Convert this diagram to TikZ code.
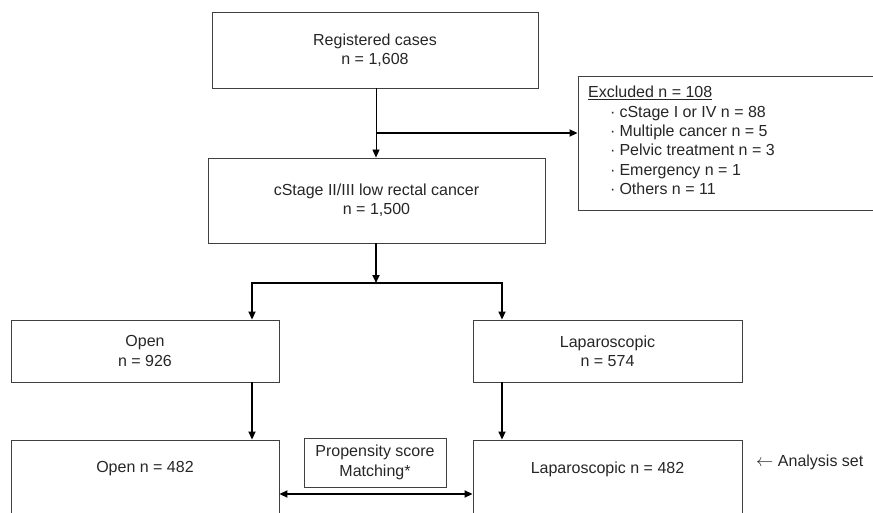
\documentclass[tikz,border=0pt]{standalone}
\usepackage{fontspec}
\setmainfont{Liberation Sans}
\usetikzlibrary{positioning}
\usetikzlibrary{arrows.meta}
\tikzset{
    mybox/.style = {rectangle, draw=black!75, line width=0.9pt, align=center, inner sep=0pt, font=\fontsize{16}{19.4}\selectfont, text=black!85},
    mytext/.style = {inner sep=0pt, align=left, font=\fontsize{16}{19.4}\selectfont, text=black!85},
    edgen/.style = {line width=0.9pt, black, -{Triangle[length=8pt,width=7pt]}},
    edget/.style = {line width=1.8pt, black, -{Triangle[length=8pt,width=7pt]}},
    edgeb/.style = {line width=1.8pt, black, {Triangle[length=8pt,width=7pt]}-{Triangle[length=8pt,width=7pt]}},
}
\begin{document}
\begin{tikzpicture}[x=1pt,y=-1pt]
\clip (0,0) rectangle (873,513);

\node[mybox, minimum width=326, minimum height=76] at (375, 50) (reg) {Registered cases\\n = 1,608};
\node[mybox, minimum width=337, minimum height=85] at (376.5, 200.5) (cst) {cStage II/III low rectal cancer\\n = 1,500};
\node[mybox, minimum width=322, minimum height=134] at (739, 143) (excl) {};
\node[mytext, anchor=north west] at (588, 86) (excltxt) {\underline{Excluded n = 108}\\
  \hspace{22pt}·\hspace{4pt}cStage I or IV n = 88\\
  \hspace{22pt}·\hspace{4pt}Multiple cancer n = 5\\
  \hspace{22pt}·\hspace{4pt}Pelvic treatment n = 3\\
  \hspace{22pt}·\hspace{4pt}Emergency n = 1\\
  \hspace{22pt}·\hspace{4pt}Others n = 11};

\node[mybox, minimum width=268, minimum height=62] at (145, 351) (open) {Open\\n = 926};
\node[mybox, minimum width=269, minimum height=62] at (607.5, 351) (lap) {Laparoscopic\\n = 574};

\node[mybox, minimum width=268, minimum height=120] at (145, 500) (open2) {};
\node[mytext] at (145, 469) (open2txt) {Open n = 482};
\node[mybox, minimum width=269, minimum height=120] at (607.5, 500) (lap2) {};
\node[mytext] at (607.5, 469) (lap2txt) {Laparoscopic n = 482};
\node[mybox, minimum width=142, minimum height=49] at (375, 462.5) (psm) {Propensity score\\Matching*};
\node[mytext, anchor=west] at (756, 462) (aset) {$\leftarrow$ Analysis set};

\coordinate (j1) at (376, 133);
\coordinate (j2) at (376, 283);
\coordinate (bl) at (252, 283);
\coordinate (br) at (502, 283);
\coordinate (dm) at (375, 494);

\draw[edgen] (reg.south -| j1) -- (cst.north -| j1);
\draw[edget] (j1) -- (j1 -| excl.west);
\draw[edget] (cst.south -| j2) -- (j2);
\draw[edgeb] (bl |- open.north) -- (bl) -- (br) -- (br |- lap.north);
\draw[edget] (bl |- open.south) -- (bl |- open2.north);
\draw[edget] (br |- lap.south) -- (br |- lap2.north);
\draw[edgeb] (dm -| open2.east) -- (dm -| lap2.west);

\end{tikzpicture}
\end{document}
